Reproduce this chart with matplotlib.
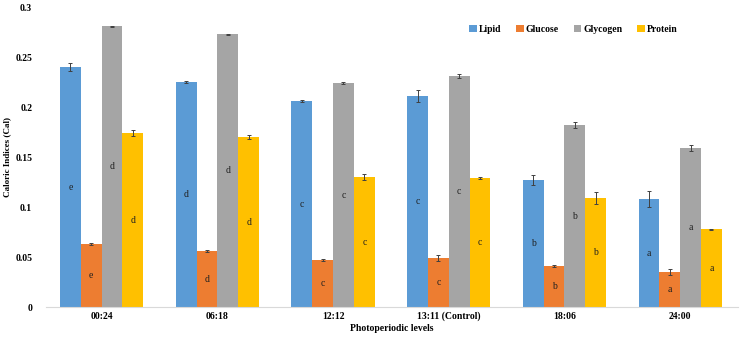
import numpy as np
import matplotlib
matplotlib.use('Agg')
import matplotlib.pyplot as plt

# Data
levels = ['00:24', '06:18', '12:12', '13:11 (Control)', '18:06', '24:00']
series = ['Lipid', 'Glucose', 'Glycogen', 'Protein']

lipid = [0.240, 0.225, 0.206, 0.211, 0.127, 0.108]
glucose = [0.063, 0.056, 0.047, 0.049, 0.041, 0.035]
glycogen = [0.281, 0.273, 0.224, 0.231, 0.182, 0.159]
protein = [0.174, 0.170, 0.130, 0.129, 0.109, 0.078]

lipid_err = [0.004, 0.001, 0.001, 0.006, 0.005, 0.008]
glucose_err = [0.001, 0.001, 0.001, 0.003, 0.001, 0.003]
glycogen_err = [0.0005, 0.0005, 0.001, 0.002, 0.003, 0.003]
protein_err = [0.003, 0.002, 0.003, 0.001, 0.006, 0.0005]

lipid_grp = ['e', 'd', 'c', 'c', 'b', 'a']
glucose_grp = ['e', 'd', 'c', 'c', 'b', 'a']
glycogen_grp = ['d', 'd', 'c', 'c', 'b', 'a']
protein_grp = ['d', 'd', 'c', 'c', 'b', 'a']

colors = ['#5B9BD5', '#ED7D31', '#A5A5A5', '#FFC000']

plt.rcParams['font.family'] = ['Liberation Serif', 'DejaVu Serif']
plt.rcParams['font.weight'] = 'bold'

fig = plt.figure(figsize=(7.44, 3.37), dpi=100)
ax = fig.add_axes([0.062, 0.089, 0.93, 0.89])

x = np.arange(len(levels))
width = 0.18
values = [lipid, glucose, glycogen, protein]
errors = [lipid_err, glucose_err, glycogen_err, protein_err]
groups = [lipid_grp, glucose_grp, glycogen_grp, protein_grp]

for i, name in enumerate(series):
    pos = x + (i - 1.5) * width
    ax.bar(pos, values[i], width, color=colors[i], label=name,
           yerr=errors[i], capsize=1.5,
           error_kw={'elinewidth': 0.7, 'ecolor': '#404040', 'capthick': 0.7})
    # significance letters at mid height
    for p, v, g in zip(pos, values[i], groups[i]):
        ax.text(p, v / 2, g, ha='center', va='center', fontsize=7,
                color='#202020', fontweight='normal')

ax.set_xlim(-0.48, 5.5)
ax.set_ylim(0, 0.3)
ax.set_yticks([0, 0.05, 0.1, 0.15, 0.2, 0.25, 0.3])
ax.set_yticklabels(['0', '0.05', '0.1', '0.15', '0.2', '0.25', '0.3'])
ax.set_xticks(x)
ax.set_xticklabels(levels)
ax.tick_params(axis='both', length=0, labelsize=7)
ax.tick_params(axis='y', pad=10)

for side in ['top', 'right', 'left']:
    ax.spines[side].set_visible(False)
ax.spines['bottom'].set_color('#D9D9D9')

ax.set_xlabel('Photoperiodic levels', fontsize=7, fontweight='bold', labelpad=2)
ax.set_ylabel('Caloric Indices (Cal)', fontsize=6.5, fontweight='bold', labelpad=3)

ax.legend(loc='upper right', bbox_to_anchor=(0.925, 0.97), ncol=4, frameon=False,
          fontsize=7, handlelength=0.8, handleheight=0.8, handletextpad=0.2,
          columnspacing=1.5)

fig.savefig('out.png', dpi=100)
